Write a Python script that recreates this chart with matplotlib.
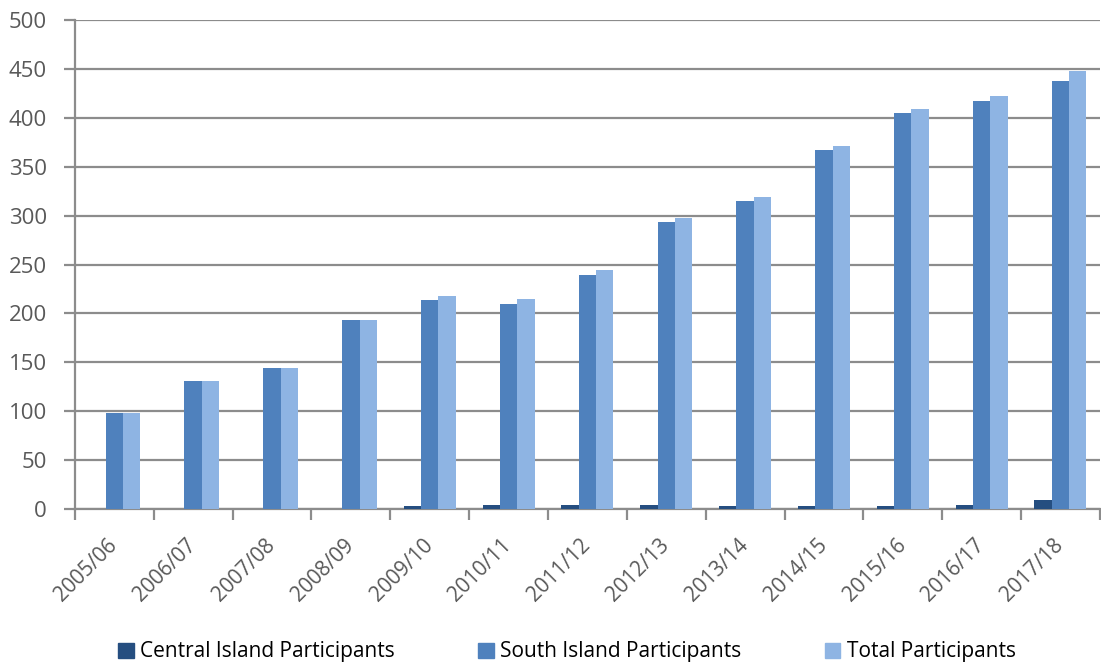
import numpy as np
from matplotlib import pyplot as plt
from matplotlib.patches import Patch

plt.rcParams['font.family'] = ['Open Sans', 'DejaVu Sans']

seasons = ['2005/06', '2006/07', '2007/08', '2008/09', '2009/10', '2010/11', '2011/12',
           '2012/13', '2013/14', '2014/15', '2015/16', '2016/17', '2017/18']
central = [0, 0, 0, 0, 3, 4, 4, 4, 3, 3, 3, 4, 9]
south = [98, 131, 144, 193, 214, 210, 239, 293, 315, 367, 405, 417, 438]
total = [98, 131, 144, 193, 218, 215, 244, 298, 319, 371, 409, 422, 448]

series = [('Central Island Participants', central, '#254E80'),
          ('South Island Participants', south, '#4F81BD'),
          ('Total Participants', total, '#8EB4E3')]

txt_col = '#595959'
grid_col = '#8c8c8c'

fig = plt.figure(figsize=(11.01, 6.68), dpi=100)
ax = fig.add_axes([0.068, 0.238, 0.931, 0.732])

x = np.arange(len(seasons))
w = 0.22
for i, (name, vals, col) in enumerate(series):
    ax.bar(x + (i - 1) * w, vals, w, color=col, label=name, zorder=3)

ax.set_ylim(0, 500)
ax.set_yticks(np.arange(0, 501, 50))
ax.set_xlim(-0.5, len(seasons) - 0.5)
ax.grid(axis='y', color=grid_col, linewidth=1.6, zorder=0)

ax.set_xticks(x)
ax.set_xticklabels(seasons, rotation=45, ha='right', va='center', rotation_mode='anchor')
ax.set_xticks(np.arange(-0.5, len(seasons)), minor=True)
ax.tick_params(axis='x', which='major', length=0, labelsize=15, pad=24,
               labelcolor=txt_col)
ax.tick_params(axis='x', which='minor', length=8, width=1.6, color=grid_col)
ax.tick_params(axis='y', length=8, width=1.6, color=grid_col, labelsize=16,
               labelcolor=txt_col, pad=12)

for s in ['top', 'right']:
    ax.spines[s].set_visible(False)
for s in ['left', 'bottom']:
    ax.spines[s].set_color(grid_col)
    ax.spines[s].set_linewidth(1.6)

handles = [Patch(color=c, label=n) for n, _, c in series]
fig.legend(handles=handles, loc='center', bbox_to_anchor=(0.515, 0.024), ncol=3,
           frameon=False, fontsize=15, handlelength=0.75, handleheight=0.75,
           handletextpad=0.3, columnspacing=4.0, labelcolor='#000000')

plt.savefig('out.png', dpi=100)
